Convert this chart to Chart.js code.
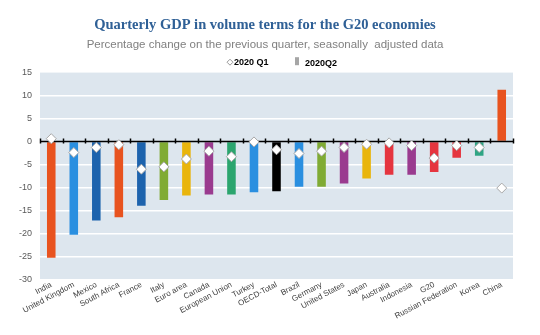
<!DOCTYPE html>
<html>
<head>
<meta charset="utf-8">
<script src="https://cdn.jsdelivr.net/npm/chart.js@4.4.1/dist/chart.umd.min.js"></script>
<style>
  html, body { margin: 0; padding: 0; background: #ffffff; }
  #wrap { width: 540px; height: 335px; position: relative; }
</style>
</head>
<body>
<div id="wrap"><canvas id="c" width="540" height="335"></canvas></div>
<script>
// ---- data ----
const categories = ["India", "United Kingdom", "Mexico", "South Africa", "France", "Italy", "Euro area", "Canada", "European Union", "Turkey", "OECD-Total", "Brazil", "Germany", "United States", "Japan", "Australia", "Indonesia", "G20", "Russian Federation", "Korea", "China"];
const q2Values = [-25.2, -20.2, -17.1, -16.4, -13.9, -12.7, -11.7, -11.5, -11.5, -11.0, -10.8, -9.8, -9.8, -9.1, -8.0, -7.2, -7.2, -6.6, -3.5, -3.1, 11.2];
const q1Values = [0.6, -2.4, -1.3, -0.7, -6.0, -5.5, -3.8, -2.1, -3.3, -0.1, -1.8, -2.6, -2.1, -1.3, -0.6, -0.3, -0.9, -3.6, -0.9, -1.3, -10.1];
const yTicks = [15, 10, 5, 0, -5, -10, -15, -20, -25, -30];
const seriesNames = ["2020 Q1", "2020Q2"];

// ---- styles ----
const C = {
  orange: "#e8531f", blue: "#2a8fe0", navy: "#1d63ad", olive: "#80ab34",
  gold: "#e9b50c", purple: "#9a3b8f", green: "#2ba56e", black: "#000000",
  red: "#e5353f", teal: "#2fa584"
};
const barColors = [C.orange, C.blue, C.navy, C.orange, C.navy, C.olive, C.gold, C.purple, C.green, C.blue, C.black, C.blue, C.olive, C.purple, C.gold, C.red, C.purple, C.red, C.red, C.teal, C.orange];
const FONT = "'Liberation Sans', Arial, sans-serif";

const plotBg = {
  id: "plotBg",
  beforeDraw(chart) {
    const { ctx, chartArea: a } = chart;
    ctx.save();
    ctx.fillStyle = "#dde6ee";
    ctx.fillRect(a.left, a.top, a.right - a.left, a.bottom - a.top);
    ctx.restore();
  },
  afterDatasetDraw(chart, args) {
    if (args.index !== 1) return;
    const { ctx, chartArea: a, scales } = chart;
    const y0 = Math.round(scales.y.getPixelForValue(0)) + 0.5;
    ctx.save();
    ctx.strokeStyle = "#000";
    ctx.lineWidth = 1.5;
    ctx.beginPath();
    ctx.moveTo(a.left, y0);
    ctx.lineTo(a.right, y0);
    const n = categories.length;
    const w = (a.right - a.left) / n;
    for (let i = 0; i <= n; i++) {
      const x = Math.round(a.left + i * w) + 0.5;
      ctx.moveTo(x, y0 - 3);
      ctx.lineTo(x, y0 + 2);
    }
    ctx.stroke();
    ctx.restore();
  }
};

// custom legend drawn above the plot area
const legendPlugin = {
  id: "customLegend",
  afterDraw(chart) {
    const { ctx, chartArea: a } = chart;
    const y = a.top - 10;
    ctx.save();
    ctx.font = "bold 9px " + FONT;
    ctx.textBaseline = "middle";
    // Q1 marker (diamond)
    let x = 230;
    ctx.beginPath();
    ctx.moveTo(x, y - 3); ctx.lineTo(x + 3, y); ctx.lineTo(x, y + 3); ctx.lineTo(x - 3, y); ctx.closePath();
    ctx.fillStyle = "#fff"; ctx.fill();
    ctx.strokeStyle = "#999"; ctx.lineWidth = 1; ctx.stroke();
    ctx.fillStyle = "#000";
    ctx.fillText(seriesNames[0], x + 4, y);
    // Q2 marker (bar)
    x = 297;
    ctx.fillStyle = "#a6a6a6";
    ctx.fillRect(x - 2, y - 5, 4, 8);
    ctx.fillStyle = "#000";
    ctx.fillText(seriesNames[1], x + 8, y + 1);
    ctx.restore();
  }
};

new Chart(document.getElementById("c"), {
  data: {
    labels: categories,
    datasets: [
      {
        type: "line",
        label: seriesNames[0],
        data: q1Values,
        showLine: false,
        pointStyle: "rectRot",
        pointRadius: 5,
        pointBackgroundColor: "#ffffff",
        pointBorderColor: "#a8a8a8",
        pointBorderWidth: 1,
        order: 0
      },
      {
        type: "bar",
        label: seriesNames[1],
        data: q2Values,
        backgroundColor: barColors,
        borderWidth: 0,
        categoryPercentage: 1,
        barPercentage: 0.38,
        order: 1
      }
    ]
  },
  options: {
    responsive: false,
    animation: false,
    layout: { padding: { left: 17, right: 27, top: 0, bottom: 0 } },
    plugins: {
      title: {
        display: true,
        text: "Quarterly GDP in volume terms for the G20 economies",
        color: "#2f6096",
        font: { family: "'Liberation Serif', serif", size: 14.5, weight: "bold" },
        padding: { top: 17, bottom: 4 }
      },
      subtitle: {
        display: true,
        text: "Percentage change on the previous quarter, seasonally  adjusted data",
        color: "#808080",
        font: { family: FONT, size: 11.5 },
        padding: { top: 0, bottom: 20 }
      },
      legend: { display: false },
      tooltip: { enabled: false }
    },
    scales: {
      x: {
        grid: { display: false, drawTicks: false },
        border: { display: false },
        ticks: {
          autoSkip: false,
          minRotation: 28,
          maxRotation: 28,
          padding: 0,
          color: "#404040",
          font: { family: FONT, size: 8 }
        },
        afterFit(s) { s.height = 55; }
      },
      y: {
        min: -30,
        max: 15,
        afterBuildTicks(s) { s.ticks = yTicks.map(v => ({ value: v })); },
        grid: {
          color: (ctx) => ctx.tick && ctx.tick.value === 0 ? "rgba(0,0,0,0)" : "#ffffff",
          lineWidth: 1.5,
          drawTicks: false
        },
        border: { display: false },
        ticks: {
          padding: 8,
          color: "#595959",
          font: { family: FONT, size: 9 }
        },
        afterFit(s) { s.width = 23; }
      }
    }
  },
  plugins: [plotBg, legendPlugin]
});
</script>
</body>
</html>
